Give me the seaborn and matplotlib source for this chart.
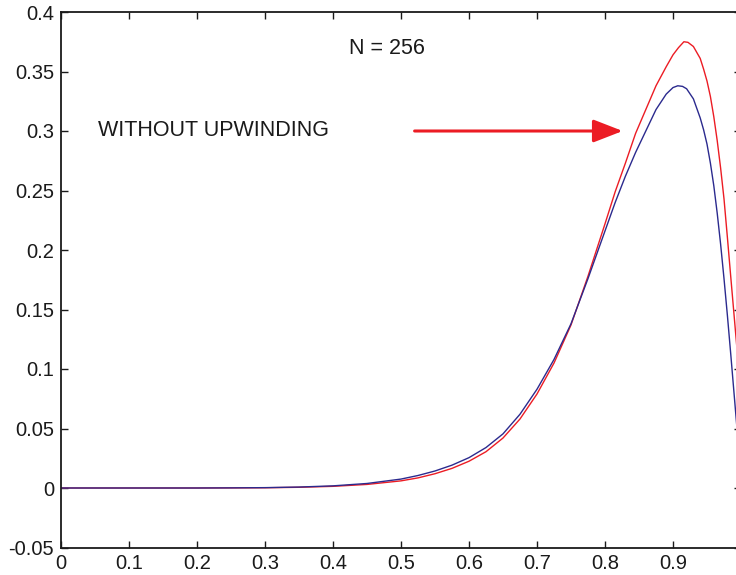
import matplotlib
matplotlib.use("Agg")
import matplotlib.pyplot as plt
import seaborn as sns
import pandas as pd

# ---- data ----
x_blue = [0.0, 0.1, 0.2, 0.25, 0.3, 0.35, 0.4, 0.45, 0.5, 0.525, 0.55, 0.575, 0.6, 0.625,
          0.65, 0.675, 0.7, 0.725, 0.75, 0.775, 0.8, 0.815, 0.83, 0.845, 0.86, 0.875,
          0.89, 0.9, 0.907, 0.914, 0.92, 0.93, 0.94, 0.945, 0.95, 0.955, 0.96, 0.965,
          0.97, 0.975, 0.98, 0.985, 0.99, 0.995, 1.0]
y_blue = [0.0, 0.0, 0.0, 0.0001, 0.0003, 0.0008, 0.0018, 0.0038, 0.0075, 0.0105, 0.0143, 0.0192, 0.0255, 0.034,
          0.0455, 0.062, 0.083, 0.108, 0.138, 0.176, 0.216, 0.240, 0.262, 0.282, 0.300, 0.318,
          0.331, 0.3365, 0.338, 0.3375, 0.3355, 0.327, 0.311, 0.301, 0.289, 0.273, 0.254, 0.231,
          0.205, 0.176, 0.145, 0.112, 0.078, 0.044, 0.010]

x_red = [0.0, 0.1, 0.2, 0.25, 0.3, 0.35, 0.4, 0.45, 0.5, 0.525, 0.55, 0.575, 0.6, 0.625,
         0.65, 0.675, 0.7, 0.725, 0.75, 0.775, 0.8, 0.815, 0.83, 0.845, 0.86, 0.875,
         0.89, 0.9, 0.908, 0.916, 0.922, 0.93, 0.94, 0.945, 0.95, 0.955, 0.96, 0.965,
         0.97, 0.975, 0.98, 0.985, 0.99, 0.995, 1.0]
y_red = [0.0, 0.0, 0.0, 0.0001, 0.0002, 0.0006, 0.0014, 0.003, 0.006, 0.0085, 0.012, 0.0165, 0.0225, 0.0305,
         0.042, 0.058, 0.079, 0.105, 0.137, 0.178, 0.222, 0.249, 0.273, 0.298, 0.318, 0.338,
         0.354, 0.364, 0.370, 0.375, 0.3745, 0.371, 0.361, 0.352, 0.342, 0.329, 0.312, 0.292,
         0.269, 0.243, 0.2105, 0.177, 0.144, 0.111, 0.078]

x_ticks = [0, 0.1, 0.2, 0.3, 0.4, 0.5, 0.6, 0.7, 0.8, 0.9]
y_ticks = [-0.05, 0, 0.05, 0.1, 0.15, 0.2, 0.25, 0.3, 0.35, 0.4]
y_ticklabels = ["-0.05", "0", "0.05", "0.1", "0.15", "0.2", "0.25", "0.3", "0.35", "0.4"]
x_ticklabels = ["0", "0.1", "0.2", "0.3", "0.4", "0.5", "0.6", "0.7", "0.8", "0.9"]

label_text = "WITHOUT UPWINDING"
n_text = "N = 256"

RED = "#ec1c24"
BLUE = "#2b2a8e"

sns.set_theme(style="ticks")
plt.rcParams["font.family"] = ["Liberation Sans", "DejaVu Sans"]

fig = plt.figure(figsize=(7.36, 5.75), dpi=100)
ax = fig.add_axes([61 / 736, 27.5 / 575, 680 / 736, 535.5 / 575])

df_red = pd.DataFrame({"x": x_red, "y": y_red})
df_blue = pd.DataFrame({"x": x_blue, "y": y_blue})
sns.lineplot(data=df_red, x="x", y="y", ax=ax, color=RED, lw=1.0, sort=False, estimator=None)
sns.lineplot(data=df_blue, x="x", y="y", ax=ax, color=BLUE, lw=1.0, sort=False, estimator=None)

ax.set_xlim(0, 1)
ax.set_ylim(-0.05, 0.4)
ax.set_xticks(x_ticks)
ax.set_xticklabels(x_ticklabels)
ax.set_yticks(y_ticks)
ax.set_yticklabels(y_ticklabels)
ax.set_xlabel("")
ax.set_ylabel("")

for s in ax.spines.values():
    s.set_visible(True)
    s.set_color("#1a1a1a")
    s.set_linewidth(1.3)

ax.tick_params(axis="both", which="both", direction="in", length=5, width=1.0,
               top=True, right=True, labelsize=14.5, colors="#1a1a1a", pad=5)

ax.text(0.054, 0.3, label_text, fontsize=15.5, color="#1a1a1a", ha="left", va="center")
ax.text(0.424, 0.369, n_text, fontsize=15.5, color="#1a1a1a", ha="left", va="center")

ax.annotate("", xy=(0.826, 0.3), xytext=(0.52, 0.3),
            arrowprops=dict(arrowstyle="-|>,head_length=0.9,head_width=0.35", color=RED,
                            lw=2.2, mutation_scale=20, shrinkA=0, shrinkB=0))

fig.savefig("out.png", dpi=100)
